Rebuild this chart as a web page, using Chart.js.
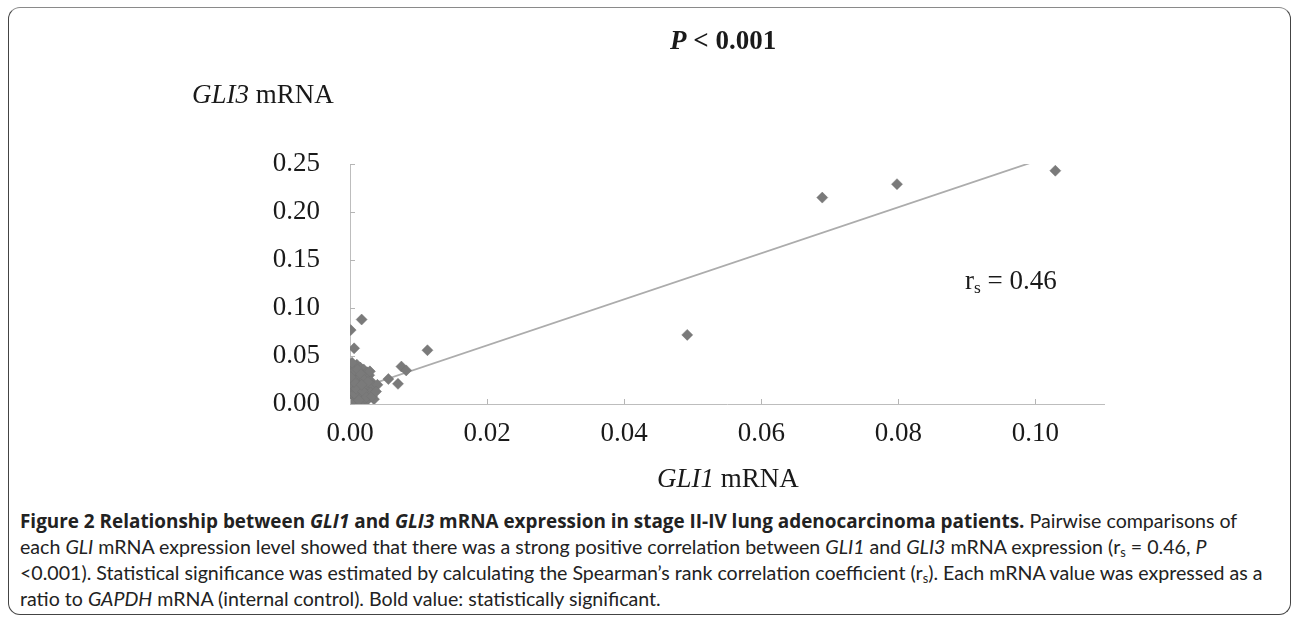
<!DOCTYPE html>
<html>
<head>
<meta charset="utf-8">
<script src="https://cdn.jsdelivr.net/npm/chart.js@4"></script>
<style>
    body { margin: 0; background: #fff; width: 1297px; height: 617px; position: relative; overflow: hidden; }
    .frame {
        position: absolute; left: 8px; top: 7px; width: 1281px; height: 606px;
        border: 1.5px solid #444; border-top-color: #8a8a8a; border-radius: 12px;
    }
    #chart-wrap { position: absolute; left: 0; top: 0; width: 1297px; height: 500px; }
    .serif { position: absolute; font-family: 'Liberation Serif', 'Times New Roman', serif; font-size: 27px; color: #1a1a1a; line-height: 1; white-space: nowrap; }
    .caption {
        position: absolute; left: 20px; top: 508px;
        font-family: Lato, 'Open Sans', sans-serif; font-size: 19.6px; line-height: 26px; color: #222;
    }
    .caption div { white-space: nowrap; }
    .caption b { font-family: 'Open Sans', sans-serif; font-size: 18.9px; }
    sub { font-size: 0.65em; vertical-align: -0.25em; line-height: 0; }
</style>
</head>
<body>
<div class="frame"></div>
<div id="chart-wrap"><canvas id="scatter"></canvas></div>

<div class="serif" style="left:670px; top:27px; font-weight:bold;"><i>P</i> &lt; 0.001</div>
<div class="serif" style="left:192px; top:81px;"><i>GLI3</i> mRNA</div>
<div class="serif" style="left:657px; top:465px;"><i>GLI1</i> mRNA</div>
<div class="serif" style="left:965px; top:267px;">r<sub>s</sub> = 0.46</div>

<div class="caption">
    <div><b>Figure 2 Relationship between <i>GLI1</i> and <i>GLI3</i> mRNA expression in stage II-IV lung adenocarcinoma patients.</b> Pairwise comparisons of</div>
    <div>each <i>GLI</i> mRNA expression level showed that there was a strong positive correlation between <i>GLI1</i> and <i>GLI3</i> mRNA expression (r<sub>s</sub> = 0.46, <i>P</i></div>
    <div>&lt;0.001). Statistical significance was estimated by calculating the Spearman’s rank correlation coefficient (r<sub>s</sub>). Each mRNA value was expressed as a</div>
    <div>ratio to <i>GAPDH</i> mRNA (internal control). Bold value: statistically significant.</div>
</div>

<script>
// GLI1 (x) and GLI3 (y) mRNA, ratio to GAPDH
const gli1 = [
    0.0002, 0.0006, 0.0010, 0.0015, 0.0020, 0.0025, 0.0003, 0.0008, 0.0012, 0.0018,
    0.0023, 0.0028, 0.0004, 0.0009, 0.0014, 0.0019, 0.0024, 0.0030, 0.0002, 0.0007,
    0.0011, 0.0016, 0.0021, 0.0027, 0.0033, 0.0003, 0.0008, 0.0013, 0.0018, 0.0023,
    0.0028, 0.0001, 0.0005, 0.0010, 0.0015, 0.0020, 0.0025, 0.0002, 0.0007, 0.0012,
    0.0017, 0.0004, 0.0009, 0.0014, 0.0006, 0.0022, 0.0030, 0.0035, 0.0001, 0.0013,
    0.0005, 0.0011, 0.0016, 0.0021, 0.0026, 0.0004, 0.0009, 0.0019, 0.0024, 0.0032,
    0.0003, 0.0013, 0.0006, 0.0001, 0.0017,
    0.0017, 0.0001, 0.0006, 0.0113, 0.0075, 0.0082, 0.0056, 0.0070, 0.0040, 0.0038,
    0.0029, 0.0492, 0.0689, 0.0798, 0.1029
];
const gli3 = [
    0.040, 0.037, 0.041, 0.038, 0.036, 0.033, 0.032, 0.030, 0.033, 0.029,
    0.027, 0.030, 0.026, 0.024, 0.027, 0.022, 0.020, 0.024, 0.021, 0.019,
    0.021, 0.017, 0.015, 0.017, 0.019, 0.015, 0.013, 0.012, 0.010, 0.011,
    0.009, 0.010, 0.008, 0.007, 0.006, 0.005, 0.004, 0.005, 0.003, 0.002,
    0.003, 0.001, 0.001, 0.009, 0.011, 0.006, 0.012, 0.005, 0.001, 0.016,
    0.034, 0.036, 0.031, 0.025, 0.023, 0.018, 0.016, 0.013, 0.007, 0.008,
    0.043, 0.004, 0.023, 0.028, 0.020,
    0.088, 0.077, 0.058, 0.056, 0.039, 0.035, 0.026, 0.021, 0.020, 0.013,
    0.034, 0.072, 0.215, 0.229, 0.243
];

// linear trend line end points
const trendX = [0, 0.0996];
const trendY = [0.013, 0.252];

const xTicks = [0, 0.02, 0.04, 0.06, 0.08, 0.10];
const yTicks = [0, 0.05, 0.10, 0.15, 0.20, 0.25];

const serif = 'Liberation Serif';

// small tick marks drawn inside the plot area, Excel style
const insideTicks = {
    id: 'insideTicks',
    afterDatasetsDraw(chart) {
        const { ctx, chartArea, scales } = chart;
        ctx.save();
        ctx.strokeStyle = '#b5b5b5';
        ctx.lineWidth = 1;
        ctx.beginPath();
        xTicks.forEach(v => {
            const px = Math.round(scales.x.getPixelForValue(v)) + 0.5;
            ctx.moveTo(px, chartArea.bottom);
            ctx.lineTo(px, chartArea.bottom - 5);
        });
        yTicks.forEach(v => {
            const py = Math.round(scales.y.getPixelForValue(v)) + 0.5;
            ctx.moveTo(chartArea.left, py);
            ctx.lineTo(chartArea.left + 5, py);
        });
        ctx.stroke();
        ctx.restore();
    }
};

new Chart(document.getElementById('scatter'), {
    type: 'scatter',
    data: {
        datasets: [
            {
                label: 'GLI1 vs GLI3',
                data: gli1.map((x, i) => ({ x, y: gli3[i] })),
                pointStyle: 'rectRot',
                pointRadius: 5.5,
                backgroundColor: '#7a7a7a',
                borderColor: '#727272',
                borderWidth: 0.5,
                order: 1
            },
            {
                label: 'Trend',
                type: 'line',
                data: trendX.map((x, i) => ({ x, y: trendY[i] })),
                borderColor: '#acacac',
                borderWidth: 1.8,
                pointRadius: 0,
                order: 2
            }
        ]
    },
    options: {
        responsive: true,
        maintainAspectRatio: false,
        animation: false,
        layout: { padding: { left: 0, top: 164, right: 193, bottom: 0 } },
        plugins: { legend: { display: false }, tooltip: { enabled: false } },
        scales: {
            x: {
                type: 'linear',
                min: 0,
                max: 0.11,
                afterBuildTicks: s => { s.ticks = xTicks.map(v => ({ value: v })); },
                afterFit: s => { s.height = 96; },
                grid: { display: false, drawTicks: false },
                border: { color: '#bdbdbd', width: 1 },
                ticks: {
                    padding: 14,
                    color: '#1a1a1a',
                    font: { family: serif, size: 27 },
                    callback: v => v.toFixed(2)
                }
            },
            y: {
                type: 'linear',
                min: 0,
                max: 0.25,
                afterBuildTicks: s => { s.ticks = yTicks.map(v => ({ value: v })); },
                afterFit: s => { s.width = 350; },
                grid: { display: false, drawTicks: false },
                border: { color: '#bdbdbd', width: 1 },
                ticks: {
                    padding: 30,
                    color: '#1a1a1a',
                    font: { family: serif, size: 27 },
                    callback: v => v.toFixed(2)
                }
            }
        }
    },
    plugins: [insideTicks]
});
</script>
</body>
</html>
